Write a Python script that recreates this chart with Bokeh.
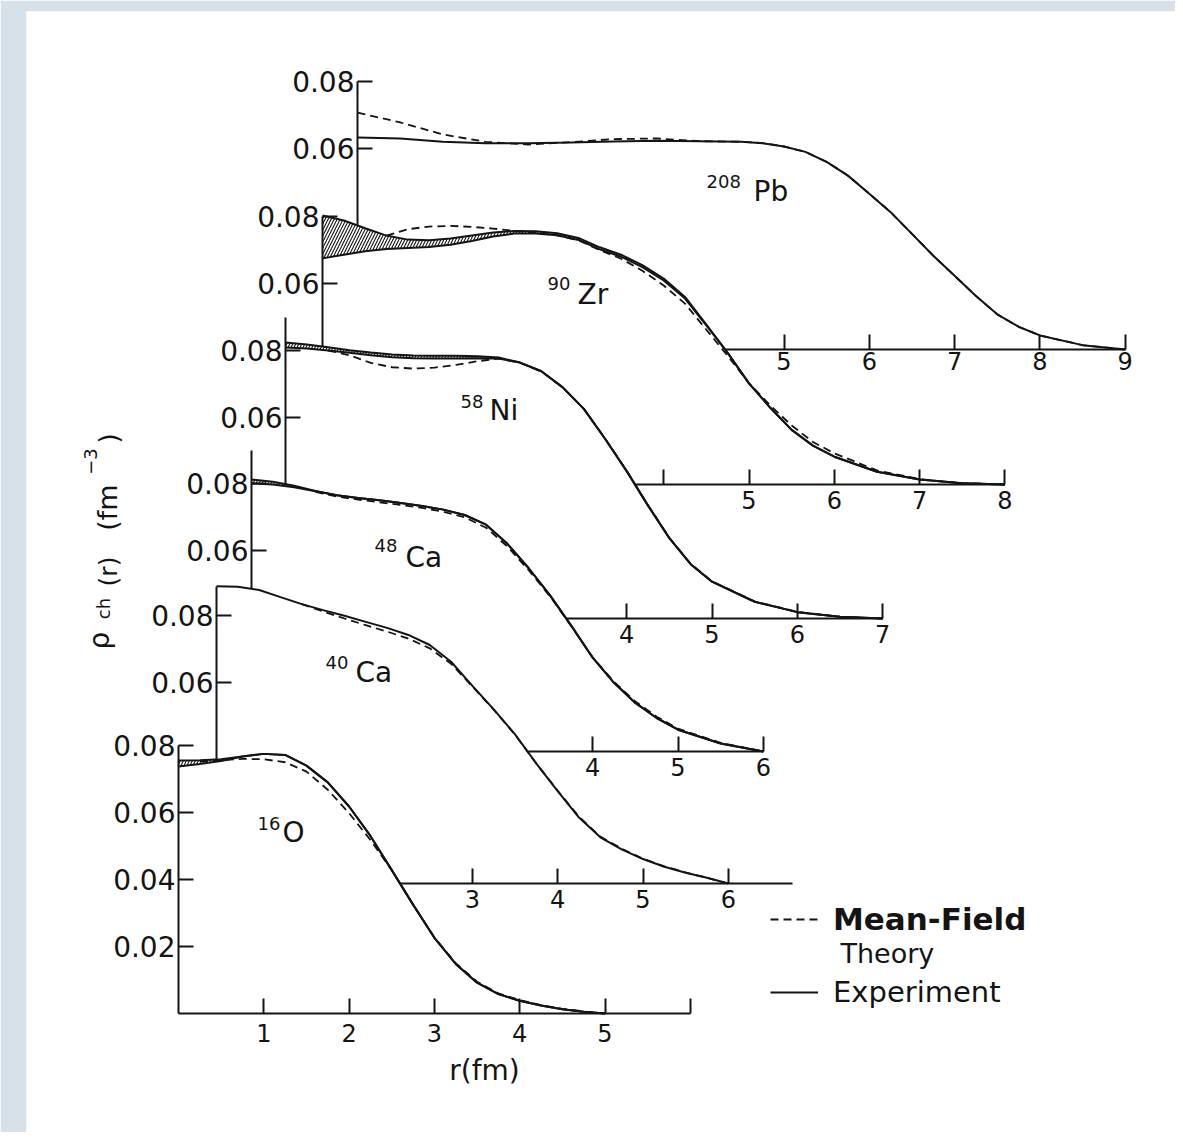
import numpy as np
from bokeh.plotting import figure
from bokeh.models import Range1d, LinearAxis, FixedTicker, Label, Legend, LegendItem
from bokeh.core.properties import value
from bokeh.embed import file_html
from bokeh.resources import INLINE

# ---------------- data: r in fm, charge density in fm^-3 ----------------
# 208Pb (no band)
r_Pb = [0, 0.5, 1.0, 1.5, 2.0, 2.5, 3.0, 3.5, 4.0, 4.5, 4.75, 5.0, 5.25, 5.5, 5.75, 6.0,
        6.25, 6.5, 6.75, 7.0, 7.25, 7.5, 7.75, 8.0, 8.5, 9.0]
exp_Pb = [0.0633, 0.0630, 0.0620, 0.0616, 0.0616, 0.0618, 0.0621, 0.0623, 0.0622, 0.0620,
          0.0616, 0.0606, 0.0590, 0.0560, 0.0519, 0.0465, 0.0410, 0.0345, 0.0280, 0.0220,
          0.0160, 0.0105, 0.0068, 0.0042, 0.0013, 0.0]
th_Pb = [0.0707, 0.0678, 0.0642, 0.0620, 0.0612, 0.0619, 0.0628, 0.0630, 0.0622, 0.0620,
         0.0616, 0.0606, 0.0590, 0.0560, 0.0519, 0.0465, 0.0410, 0.0345, 0.0280, 0.0220,
         0.0160, 0.0105, 0.0068, 0.0042, 0.0013, 0.0]

# 90Zr (experimental band: hi / lo)
r_Zr = [0, 0.25, 0.5, 0.75, 1.0, 1.25, 1.5, 1.75, 2.0, 2.25, 2.5, 2.75, 3.0, 3.25, 3.5,
        3.75, 4.0, 4.25, 4.5, 4.75, 5.0, 5.25, 5.5, 5.75, 6.0, 6.5, 7.0, 7.5, 8.0]
hi_Zr = [0.0803, 0.0788, 0.0765, 0.0743, 0.0731, 0.0729, 0.0734, 0.0743, 0.0752, 0.0757,
         0.0756, 0.0750, 0.0736, 0.0708, 0.0686, 0.0655, 0.0615, 0.0560, 0.0477, 0.0393,
         0.0302, 0.0229, 0.0163, 0.0116, 0.0083, 0.0038, 0.0015, 0.0004, 0.0]
lo_Zr = [0.0675, 0.0686, 0.0696, 0.0703, 0.0706, 0.0709, 0.0716, 0.0727, 0.0740, 0.0749,
         0.0749, 0.0744, 0.0730, 0.0702, 0.0680, 0.0649, 0.0609, 0.0555, 0.0475, 0.0393,
         0.0302, 0.0229, 0.0163, 0.0116, 0.0083, 0.0038, 0.0015, 0.0004, 0.0]
th_r_Zr = [0.75, 1.0, 1.25, 1.5, 1.75, 2.0, 2.25, 2.5, 2.75, 3.0, 3.25, 3.5, 3.75, 4.0,
           4.25, 4.5, 4.75, 5.0, 5.25, 5.5, 5.75, 6.0, 6.5, 7.0, 7.5, 8.0]
th_Zr = [0.0743, 0.0762, 0.0770, 0.0772, 0.0769, 0.0764, 0.0757, 0.0751, 0.0744, 0.0729,
         0.0700, 0.0674, 0.0638, 0.0594, 0.0540, 0.0462, 0.0384, 0.0302, 0.0236, 0.0176,
         0.0127, 0.0093, 0.0042, 0.0016, 0.0004, 0.0]

# 58Ni
r_Ni = [0, 0.25, 0.5, 0.75, 1.0, 1.25, 1.5, 1.75, 2.0, 2.25, 2.5, 2.75, 3.0, 3.25, 3.5,
        3.75, 4.0, 4.25, 4.5, 4.75, 5.0, 5.5, 6.0, 6.5, 7.0]
hi_Ni = [0.0824, 0.0818, 0.0810, 0.0801, 0.0794, 0.0788, 0.0785, 0.0784, 0.0784, 0.0783,
         0.0779, 0.0764, 0.0738, 0.0690, 0.0625, 0.0535, 0.0440, 0.0337, 0.0240, 0.0162,
         0.0110, 0.0050, 0.0019, 0.0005, 0.0]
lo_Ni = [0.0809, 0.0806, 0.0800, 0.0793, 0.0786, 0.0780, 0.0777, 0.0776, 0.0776, 0.0777,
         0.0776, 0.0764, 0.0738, 0.0690, 0.0625, 0.0535, 0.0440, 0.0337, 0.0240, 0.0162,
         0.0110, 0.0050, 0.0019, 0.0005, 0.0]
th_r_Ni = [0.5, 0.75, 1.0, 1.25, 1.5, 1.75, 2.0, 2.25, 2.5, 2.75, 3.0, 3.25, 3.5, 3.75,
           4.0, 4.25, 4.5, 4.75, 5.0, 5.5, 6.0, 6.5, 7.0]
th_Ni = [0.0800, 0.0786, 0.0763, 0.0750, 0.0746, 0.0749, 0.0757, 0.0768, 0.0776, 0.0763,
         0.0737, 0.0690, 0.0625, 0.0536, 0.0441, 0.0338, 0.0241, 0.0163, 0.0111, 0.0051,
         0.0020, 0.0005, 0.0]

# 48Ca
r_Ca48 = [0, 0.25, 0.5, 0.75, 1.0, 1.25, 1.5, 1.75, 2.0, 2.25, 2.5, 2.75, 3.0, 3.25, 3.5,
          3.75, 4.0, 4.25, 4.5, 4.75, 5.0, 5.5, 6.0]
hi_Ca48 = [0.0812, 0.0805, 0.0793, 0.0778, 0.0765, 0.0757, 0.0750, 0.0742, 0.0733, 0.0722,
           0.0706, 0.0677, 0.0620, 0.0547, 0.0466, 0.0375, 0.0280, 0.0205, 0.0145, 0.0100,
           0.0065, 0.0024, 0.0]
lo_Ca48 = [0.0800, 0.0797, 0.0789, 0.0777, 0.0765, 0.0757, 0.0750, 0.0742, 0.0733, 0.0722,
           0.0706, 0.0677, 0.0620, 0.0547, 0.0466, 0.0375, 0.0280, 0.0205, 0.0145, 0.0100,
           0.0065, 0.0024, 0.0]
th_r_Ca48 = [0.75, 1.0, 1.25, 1.5, 1.75, 2.0, 2.25, 2.5, 2.75, 3.0, 3.25, 3.5, 3.75, 4.0,
             4.25, 4.5, 4.75, 5.0, 5.5, 6.0]
th_Ca48 = [0.0775, 0.0761, 0.0752, 0.0744, 0.0736, 0.0727, 0.0716, 0.0699, 0.0668, 0.0612,
           0.0541, 0.0463, 0.0374, 0.0281, 0.0208, 0.0149, 0.0104, 0.0068, 0.0026, 0.0]

# 40Ca (no band)
r_Ca40 = [0, 0.25, 0.5, 0.75, 1.0, 1.25, 1.5, 1.75, 2.0, 2.25, 2.5, 2.75, 3.0, 3.25, 3.5,
          3.75, 4.0, 4.25, 4.5, 4.75, 5.0, 5.25, 5.5, 5.75, 6.0]
exp_Ca40 = [0.0887, 0.0886, 0.0876, 0.0855, 0.0834, 0.0816, 0.0799, 0.0781, 0.0763, 0.0742,
            0.0712, 0.0662, 0.0590, 0.0520, 0.0445, 0.0358, 0.0276, 0.0197, 0.0138, 0.0102,
            0.0073, 0.0050, 0.0032, 0.0017, 0.0]
th_r_Ca40 = [1.0, 1.25, 1.5, 1.75, 2.0, 2.25, 2.5, 2.75, 3.0, 3.25, 3.5, 3.75, 4.0, 4.25,
             4.5, 4.75, 5.0, 5.25, 5.5, 5.75, 6.0]
th_Ca40 = [0.0834, 0.0812, 0.0791, 0.0771, 0.0752, 0.0731, 0.0702, 0.0656, 0.0588, 0.0519,
           0.0444, 0.0358, 0.0277, 0.0199, 0.0140, 0.0104, 0.0074, 0.0051, 0.0033, 0.0017, 0.0]

# 16O
r_O16 = [0, 0.25, 0.5, 0.75, 1.0, 1.25, 1.5, 1.75, 2.0, 2.25, 2.5, 2.75, 3.0, 3.25, 3.5,
         3.75, 4.0, 4.25, 4.5, 4.75, 5.0]
hi_O16 = [0.0755, 0.0756, 0.0759, 0.0767, 0.0775, 0.0772, 0.0740, 0.0690, 0.0618, 0.0530,
          0.0428, 0.0325, 0.0226, 0.0148, 0.0092, 0.0058, 0.0038, 0.0024, 0.0013, 0.0005, 0.0]
lo_O16 = [0.0737, 0.0745, 0.0754, 0.0767, 0.0775, 0.0772, 0.0740, 0.0690, 0.0618, 0.0530,
          0.0428, 0.0325, 0.0226, 0.0148, 0.0092, 0.0058, 0.0038, 0.0024, 0.0013, 0.0005, 0.0]
th_r_O16 = [0.25, 0.5, 0.75, 1.0, 1.25, 1.5, 1.75, 2.0, 2.25, 2.5, 2.75, 3.0, 3.25, 3.5,
            3.75, 4.0, 4.25, 4.5, 4.75, 5.0]
th_O16 = [0.0752, 0.0756, 0.0760, 0.0759, 0.0750, 0.0722, 0.0668, 0.0598, 0.0518, 0.0428,
          0.0325, 0.0227, 0.0150, 0.0095, 0.0060, 0.0040, 0.0025, 0.0014, 0.0006, 0.0]

# ---------------- layout ----------------
FONT = "DejaVu Sans"
INK = "#141414"
FIG_W, FIG_H = 1175, 1132
BL, BT = 26, 11
FW, FH = FIG_W - BL, FIG_H - BT
FX, FY = BL, BT                  # frame origin in picture pixels
SX, SY = 85.3, 3350.0            # px per fm, px per fm^-3

# label positions are the visual centres of the glyphs (picture pixels)
panels = [
    dict(key="Pb", r=r_Pb, hi=exp_Pb, lo=None, tr=r_Pb, th=th_Pb, X0=357, Y0=349,
         ytop=0.08, yticks=[0.06, 0.08], xticks=[5, 6, 7, 8, 9], xminor=[], xend=9.0,
         xstand=2, sup="208", el="Pb", sup_xy=(706, 181), el_xy=(753, 191)),
    dict(key="Zr", r=r_Zr, hi=hi_Zr, lo=lo_Zr, tr=th_r_Zr, th=th_Zr, X0=322, Y0=484,
         ytop=0.08, yticks=[0.06, 0.08], xticks=[5, 6, 7, 8], xminor=[4], xend=8.0,
         xstand=6, sup="90", el="Zr", sup_xy=(547, 283), el_xy=(577, 294)),
    dict(key="Ni", r=r_Ni, hi=hi_Ni, lo=lo_Ni, tr=th_r_Ni, th=th_Ni, X0=285, Y0=618,
         ytop=0.09, yticks=[0.06, 0.08], xticks=[4, 5, 6, 7], xminor=[], xend=7.0,
         xstand=6, sup="58", el="Ni", sup_xy=(460, 401), el_xy=(489, 410)),
    dict(key="Ca48", r=r_Ca48, hi=hi_Ca48, lo=lo_Ca48, tr=th_r_Ca48, th=th_Ca48, X0=251, Y0=751,
         ytop=0.09, yticks=[0.06, 0.08], xticks=[4, 5, 6], xminor=[], xend=6.0,
         xstand=6, sup="48", el="Ca", sup_xy=(374, 545), el_xy=(405, 557)),
    dict(key="Ca40", r=r_Ca40, hi=exp_Ca40, lo=None, tr=th_r_Ca40, th=th_Ca40, X0=216, Y0=883,
         ytop=exp_Ca40[0], yticks=[0.06, 0.08], xticks=[3, 4, 5, 6], xminor=[], xend=6.75,
         xstand=6, sup="40", el="Ca", sup_xy=(325, 662), el_xy=(355, 672)),
    dict(key="O16", r=r_O16, hi=hi_O16, lo=lo_O16, tr=th_r_O16, th=th_O16, X0=178, Y0=1013,
         ytop=0.08, yticks=[0.02, 0.04, 0.06, 0.08], xticks=[1, 2, 3, 4, 5], xminor=[6], xend=6.0,
         xstand=10, sup="16", el="O", sup_xy=(257, 823), el_xy=(282, 832)),
]

p = figure(width=FIG_W, height=FIG_H, x_range=Range1d(0, 1), y_range=Range1d(0, 1),
           x_axis_type=None, y_axis_type=None, toolbar_location=None, output_backend="svg",
           min_border_left=BL, min_border_right=0, min_border_top=BT, min_border_bottom=0,
           border_fill_color="#d6e1ea", background_fill_color="white", outline_line_color=None)

xr = {"page": Range1d(FX, FX + FW)}
yr = {"page": Range1d(FY + FH, FY)}
for pn in panels:
    fx0, fy0 = pn["X0"] - FX, pn["Y0"] - FY
    xr[pn["key"]] = Range1d(-fx0 / SX, (FW - fx0) / SX)
    yr[pn["key"]] = Range1d(-(FH - fy0) / SY, fy0 / SY)
p.extra_x_ranges = xr
p.extra_y_ranges = yr


def top_px(pn, xpix):
    r = (np.asarray(xpix, dtype=float) - pn["X0"]) / SX
    rho = np.interp(r, pn["r"], pn["hi"], left=pn["hi"][0], right=0.0)
    return pn["Y0"] - rho * SY


renderers = {}
for k, pn in enumerate(panels):
    nm = pn["key"]
    kw = dict(x_range_name=nm, y_range_name=nm)
    if pn["lo"] is not None:
        p.varea(x=pn["r"], y1=pn["lo"], y2=pn["hi"], fill_color=None, fill_alpha=0,
                hatch_pattern="/", hatch_scale=6, hatch_weight=1.1, hatch_color=INK, **kw)
    th = p.line(pn["tr"], pn["th"], line_color=INK, line_width=1.8, line_dash="8 5", **kw)
    ex = p.line(pn["r"], pn["hi"], line_color=INK, line_width=2, **kw)
    if pn["lo"] is not None:
        p.line(pn["r"], pn["lo"], line_color=INK, line_width=2, **kw)
    renderers[nm] = (th, ex)

    # axis extents: hidden where the panel in front covers them
    if k + 1 < len(panels):
        fr = panels[k + 1]
        ybot = (pn["Y0"] - float(top_px(fr, pn["X0"]))) / SY
        xs = np.linspace(fr["X0"], fr["X0"] + fr["r"][-1] * SX, 6000)
        ys = top_px(fr, xs)
        xcross = xs[int(np.argmax(ys >= pn["Y0"]))]
        xstart = (xcross - pn["X0"]) / SX
    else:
        ybot, xstart = 0.0, 0.0

    xa = LinearAxis(fixed_location=0, bounds=(xstart, pn["xend"]),
                    ticker=FixedTicker(ticks=pn["xticks"], minor_ticks=pn["xminor"]),
                    axis_line_color=INK, axis_line_width=2,
                    major_tick_line_color=INK, major_tick_line_width=2,
                    major_tick_in=15, major_tick_out=0,
                    minor_tick_line_color=INK if pn["xminor"] else None,
                    minor_tick_line_width=2, minor_tick_in=15, minor_tick_out=0,
                    major_label_standoff=pn["xstand"], major_label_text_font=FONT,
                    major_label_text_font_size="24px", major_label_text_color=INK, **kw)
    p.add_layout(xa, "below")
    ya = LinearAxis(fixed_location=0, bounds=(ybot, pn["ytop"]),
                    ticker=FixedTicker(ticks=pn["yticks"]),
                    axis_line_color=INK, axis_line_width=2,
                    major_tick_line_color=INK, major_tick_line_width=2,
                    major_tick_in=15, major_tick_out=0, minor_tick_line_color=None,
                    major_label_standoff=3, major_label_text_font=FONT,
                    major_label_text_font_size="28px", major_label_text_color=INK, **kw)
    p.add_layout(ya, "left")

    # nucleus labels
    pk = dict(x_range_name="page", y_range_name="page", text_font=FONT, text_color=INK,
              text_baseline="alphabetic", text_align="left")
    p.add_layout(Label(x=pn["sup_xy"][0], y=pn["sup_xy"][1], text=pn["sup"],
                       text_font_size="18px", **pk))
    p.add_layout(Label(x=pn["el_xy"][0], y=pn["el_xy"][1], text=pn["el"],
                       text_font_size="28px", **pk))

# ---------------- axis titles ----------------
pg = dict(x_range_name="page", y_range_name="page", text_font=FONT, text_color=INK)
p.add_layout(Label(x=484, y=1070, text="r(fm)", text_font_size="28px",
                   text_align="center", text_baseline="alphabetic", **pg))
rot = dict(angle=np.pi / 2, text_align="center", text_baseline="alphabetic", **pg)
p.add_layout(Label(x=99, y=640, text="ρ", text_font_size="28px", **rot))
p.add_layout(Label(x=103, y=608, text="ch", text_font_size="18px", **rot))
p.add_layout(Label(x=108, y=571, text="(r)", text_font_size="25px", **rot))
p.add_layout(Label(x=107, y=507, text="(fm", text_font_size="27px", **rot))
p.add_layout(Label(x=90, y=461, text="−3", text_font_size="18px", **rot))
p.add_layout(Label(x=108, y=438, text=")", text_font_size="27px", **rot))

# ---------------- legend ----------------
th_O, ex_O = renderers["O16"]
leg_common = dict(orientation="vertical", glyph_width=48, glyph_height=38, label_height=38,
                  label_standoff=15, padding=0, margin=0, spacing=0,
                  border_line_color=None, background_fill_alpha=0,
                  label_text_font=FONT, label_text_color=INK)
leg1 = Legend(items=[LegendItem(label=value("Mean-Field"), renderers=[th_O])],
              location=(770 - FX, FY + FH - 938), label_text_font_size="31px",
              label_text_font_style="bold", **leg_common)
leg2 = Legend(items=[LegendItem(label=value("Experiment"), renderers=[ex_O])],
              location=(770 - FX, FY + FH - 1011), label_text_font_size="29px",
              **leg_common)
p.add_layout(leg1)
p.add_layout(leg2)
p.add_layout(Label(x=840, y=953, text="Theory", text_font_size="27px",
                   text_align="left", text_baseline="alphabetic", **pg))

open("out.html", "w").write(file_html(p, INLINE))
